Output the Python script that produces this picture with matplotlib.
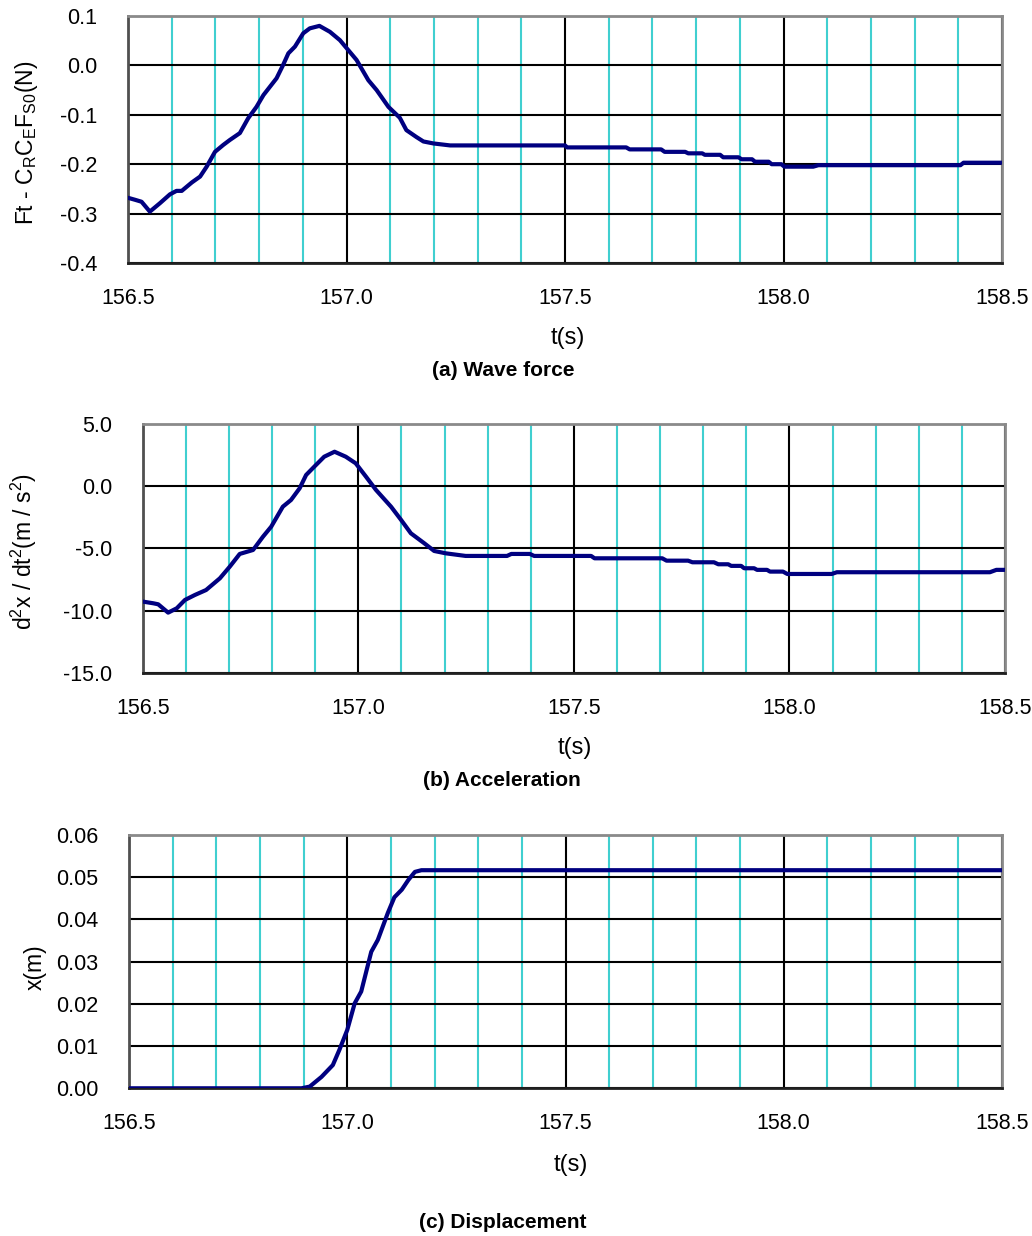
import matplotlib
matplotlib.use("Agg")
import matplotlib.pyplot as plt
from matplotlib.ticker import FixedLocator

plt.rcParams['font.family'] = ['Liberation Sans', 'DejaVu Sans']
plt.rcParams['mathtext.fontset'] = 'custom'
plt.rcParams['mathtext.rm'] = 'Liberation Sans'
plt.rcParams['mathtext.it'] = 'Liberation Sans'
plt.rcParams['axes.unicode_minus'] = False

# ---------------- data ----------------
x_ticks = [156.5, 157.0, 157.5, 158.0, 158.5]
x_ticklabels = ["156.5", "157.0", "157.5", "158.0", "158.5"]
x_minor = [156.6, 156.7, 156.8, 156.9, 157.1, 157.2, 157.3, 157.4,
           157.6, 157.7, 157.8, 157.9, 158.1, 158.2, 158.3, 158.4]

# (a) wave force
t_a = [156.500, 156.516, 156.531, 156.550, 156.573, 156.596, 156.611, 156.623, 156.646, 156.665,
       156.680, 156.699, 156.718, 156.733, 156.756, 156.775, 156.794, 156.810, 156.840, 156.855,
       156.867, 156.882, 156.901, 156.916, 156.938, 156.962, 156.985, 157.004, 157.023, 157.050,
       157.069, 157.096, 157.122, 157.137, 157.160, 157.176, 157.199, 157.237, 157.500, 157.505,
       157.640, 157.648, 157.720, 157.728, 157.775, 157.782, 157.814, 157.820, 157.855, 157.862,
       157.897, 157.904, 157.928, 157.935, 157.966, 157.973, 157.995, 158.002, 158.068, 158.080,
       158.405, 158.412, 158.500]
f_a = [-0.268, -0.272, -0.276, -0.296, -0.279, -0.261, -0.254, -0.254, -0.237, -0.225,
       -0.205, -0.175, -0.161, -0.151, -0.137, -0.107, -0.084, -0.060, -0.026, 0.001,
       0.0245, 0.038, 0.065, 0.075, 0.080, 0.068, 0.051, 0.031, 0.011, -0.030,
       -0.050, -0.084, -0.106, -0.131, -0.145, -0.154, -0.158, -0.162, -0.162, -0.166,
       -0.166, -0.170, -0.170, -0.175, -0.175, -0.178, -0.178, -0.181, -0.181, -0.186,
       -0.186, -0.190, -0.190, -0.195, -0.195, -0.200, -0.200, -0.205, -0.205, -0.202,
       -0.202, -0.197, -0.197]
y_ticks_a = [0.1, 0.0, -0.1, -0.2, -0.3, -0.4]
y_ticklabels_a = ["0.1", "0.0", "-0.1", "-0.2", "-0.3", "-0.4"]

# (b) acceleration
t_b = [156.500, 156.525, 156.536, 156.559, 156.579, 156.598, 156.621, 156.647, 156.679, 156.702,
       156.725, 156.756, 156.779, 156.798, 156.825, 156.844, 156.864, 156.879, 156.898, 156.921,
       156.945, 156.971, 156.994, 157.018, 157.041, 157.076, 157.099, 157.122, 157.153, 157.176,
       157.203, 157.249, 157.345, 157.355, 157.398, 157.408, 157.540, 157.548, 157.705, 157.715,
       157.765, 157.775, 157.825, 157.835, 157.858, 157.865, 157.888, 157.895, 157.918, 157.925,
       157.948, 157.955, 157.985, 157.995, 158.098, 158.110, 158.465, 158.480, 158.500]
a_b = [-9.28, -9.42, -9.50, -10.17, -9.82, -9.15, -8.75, -8.35, -7.41, -6.47,
       -5.45, -5.13, -4.06, -3.26, -1.65, -1.11, -0.17, 0.90, 1.57, 2.37,
       2.77, 2.37, 1.84, 0.76, -0.30, -1.65, -2.70, -3.79, -4.59, -5.21,
       -5.40, -5.61, -5.61, -5.45, -5.45, -5.61, -5.61, -5.80, -5.80, -5.99,
       -5.99, -6.12, -6.12, -6.28, -6.28, -6.41, -6.41, -6.60, -6.60, -6.73,
       -6.73, -6.87, -6.87, -7.06, -7.06, -6.92, -6.92, -6.73, -6.73]
y_ticks_b = [5.0, 0.0, -5.0, -10.0, -15.0]
y_ticklabels_b = ["5.0", "0.0", "-5.0", "-10.0", "-15.0"]

# (c) displacement
t_c = [156.500, 156.895, 156.914, 156.941, 156.967, 156.982, 157.000, 157.017, 157.032, 157.055,
       157.070, 157.093, 157.108, 157.125, 157.140, 157.155, 157.170, 158.500]
x_c = [0.0, 0.0, 0.0004, 0.0027, 0.0055, 0.0091, 0.0138, 0.0201, 0.0229, 0.0323,
       0.0351, 0.0415, 0.0452, 0.0470, 0.0493, 0.0512, 0.0516, 0.0516]
y_ticks_c = [0.0, 0.01, 0.02, 0.03, 0.04, 0.05, 0.06]
y_ticklabels_c = ["0.00", "0.01", "0.02", "0.03", "0.04", "0.05", "0.06"]

# ---------------- figure ----------------
W, H = 1032, 1236
fig = plt.figure(figsize=(W / 100, H / 100), dpi=100)

def px_axes(left, top, right, bottom):
    return fig.add_axes([left / W, 1 - bottom / H, (right - left) / W, (bottom - top) / H])

LINE = '#000080'
CYAN = '#40CFD0'
FS = 15.5

def style(ax, yt, ylab, ylim):
    ax.set_xlim(156.5, 158.5)
    ax.set_ylim(*ylim)
    ax.xaxis.set_major_locator(FixedLocator(x_ticks))
    ax.set_xticklabels(x_ticklabels)
    ax.xaxis.set_minor_locator(FixedLocator(x_minor))
    ax.set_yticks(yt)
    ax.set_yticklabels(ylab)
    ax.grid(True, which='major', axis='both', color='black', lw=1.5, zorder=1)
    ax.grid(True, which='minor', axis='x', color=CYAN, lw=1.5, zorder=1)
    ax.tick_params(which='both', length=0)
    ax.tick_params(axis='x', pad=18, labelsize=FS)
    ax.tick_params(axis='y', pad=22, labelsize=FS)
    for s in ['top', 'right']:
        ax.spines[s].set_color('#8a8a8a')
        ax.spines[s].set_linewidth(2)
    ax.spines['left'].set_color('#505050')
    ax.spines['left'].set_linewidth(2)
    ax.spines['bottom'].set_color('#202020')
    ax.spines['bottom'].set_linewidth(2)
    ax.set_axisbelow(True)

ax1 = px_axes(128, 16, 1002, 263)
ax1.plot(t_a, f_a, color=LINE, lw=3, zorder=3, solid_joinstyle='round')
style(ax1, y_ticks_a, y_ticklabels_a, (-0.4, 0.1))

ax2 = px_axes(142.7, 424, 1005, 672.7)
ax2.plot(t_b, a_b, color=LINE, lw=3, zorder=3, solid_joinstyle='round')
style(ax2, y_ticks_b, y_ticklabels_b, (-15.0, 5.0))

ax3 = px_axes(129, 834.7, 1002, 1088.3)
ax3.plot(t_c, x_c, color=LINE, lw=3, zorder=3, solid_joinstyle='round')
style(ax3, y_ticks_c, y_ticklabels_c, (0.0, 0.06))

def ftext(x, y, s, **kw):
    fig.text(x / W, 1 - y / H, s, ha='center', va='center', **kw)

# y labels
ftext(27, 143, r'Ft - C$_{\mathrm{R}}$C$_{\mathrm{E}}$F$_{\mathrm{S0}}$(N)', rotation=90, fontsize=16.5)
ftext(24, 552, r'd$^{2}$x / dt$^{2}$(m / s$^{2}$)', rotation=90, fontsize=16.5)
ftext(35, 967, 'x(m)', rotation=90, fontsize=16.5)

# x labels
ftext(568, 338, 't(s)', fontsize=17)
ftext(575, 748, 't(s)', fontsize=17)
ftext(571, 1165, 't(s)', fontsize=17)

# titles
ftext(503, 371, '(a) Wave force', fontsize=15, fontweight='bold')
ftext(502, 780, '(b) Acceleration', fontsize=15, fontweight='bold')
ftext(503, 1222, '(c) Displacement', fontsize=15, fontweight='bold')

fig.savefig('out.png', dpi=100)
